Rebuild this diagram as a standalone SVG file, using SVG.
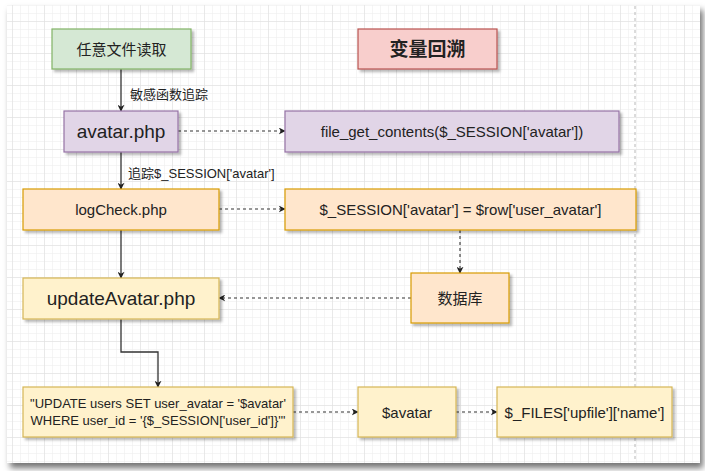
<svg xmlns="http://www.w3.org/2000/svg" width="705" height="471" viewBox="0 0 705 471">
<defs>
<pattern id="minor" width="8" height="8" patternUnits="userSpaceOnUse" x="4" y="5">
<path d="M8 0 L0 0 0 8" fill="none" stroke="#ececec" stroke-width="1"/>
</pattern>
<pattern id="major" width="32" height="32" patternUnits="userSpaceOnUse" x="12" y="21">
<path d="M32 0 L0 0 0 32" fill="none" stroke="#dedede" stroke-width="1"/>
</pattern>
<filter id="sh" x="-10%" y="-10%" width="130%" height="140%">
<feDropShadow dx="2.5" dy="2.5" stdDeviation="1.2" flood-color="#000" flood-opacity="0.28"/>
</filter>
<filter id="psh" x="-5%" y="-5%" width="110%" height="115%">
<feDropShadow dx="3" dy="5" stdDeviation="3" flood-color="#000" flood-opacity="0.55"/>
</filter>
<marker id="arr" viewBox="0 0 10 10" refX="9" refY="5" markerWidth="7" markerHeight="7" markerUnits="userSpaceOnUse" orient="auto">
<path d="M0 0 L10 5 L0 10 L3 5 z" fill="#222"/>
</marker>
<style>
text{font-family:"Liberation Sans",Arial,"Noto Sans CJK SC",sans-serif;fill:#222;text-anchor:middle;dominant-baseline:central}
.box{stroke-width:1.2;filter:url(#sh)}
.green{fill:#d5e8d4;stroke:#82b366}
.red{fill:#f8cecc;stroke:#b85450}
.purple{fill:#e1d5e7;stroke:#9673a6}
.orange{fill:#ffe6cc;stroke:#d79b00}
.yellow{fill:#fff2cc;stroke:#d6b656}
.solid{fill:none;stroke:#333;stroke-width:1.3;marker-end:url(#arr)}
.dash{fill:none;stroke:#333;stroke-width:1.1;stroke-dasharray:3 3;marker-end:url(#arr)}
.lbl{font-size:13px;text-anchor:start}
</style>
</defs>
<rect width="705" height="471" fill="#ffffff"/>
<g id="panel">
<rect x="7" y="5" width="693" height="458" fill="#ffffff" filter="url(#psh)"/>
<rect x="7" y="5" width="693" height="458" fill="url(#minor)"/>
<rect x="7" y="5" width="693" height="458" fill="url(#major)"/>
<line x1="635" y1="6" x2="635" y2="462" stroke="#b8b8b8" stroke-width="1" stroke-dasharray="3 3"/>
</g>
<g id="connectors">
<path class="solid" d="M121 69 L121 111"/>
<path class="solid" d="M121 152 L121 189"/>
<path class="solid" d="M121 230 L121 278"/>
<path class="solid" d="M121 319 L121 352 L158 352 L158 387"/>
<path class="dash" d="M178 131 L285 131"/>
<path class="dash" d="M219 209 L285 209"/>
<path class="dash" d="M460 230 L460 273"/>
<path class="dash" d="M411 298 L219 298"/>
<path class="dash" d="M293 412 L358 412"/>
<path class="dash" d="M456 412 L497 412"/>
<text class="lbl" x="130" y="94">敏感函数追踪</text>
<text class="lbl" x="128" y="173">追踪$_SESSION['avatar']</text>
</g>
<g id="n-read"><rect class="box green" x="52" y="29" width="139" height="40"/><text x="121.5" y="49" font-size="15">任意文件读取</text></g>
<g id="n-title"><rect class="box red" x="358" y="29" width="139" height="40"/><text x="427.5" y="49" font-size="19" font-weight="bold">变量回溯</text></g>
<g id="n-avatar"><rect class="box purple" x="64" y="111" width="114" height="41"/><text x="121" y="131.5" font-size="19">avatar.php</text></g>
<g id="n-fgc"><rect class="box purple" x="285" y="111" width="334" height="41"/><text x="452" y="131.5" font-size="15">file_get_contents($_SESSION['avatar'])</text></g>
<g id="n-logcheck"><rect class="box orange" x="23" y="189" width="196" height="41"/><text x="121" y="209.5" font-size="15">logCheck.php</text></g>
<g id="n-session"><rect class="box orange" x="285" y="189" width="351" height="41"/><text x="460.5" y="209.5" font-size="15">$_SESSION['avatar'] = $row['user_avatar']</text></g>
<g id="n-update"><rect class="box yellow" x="23" y="278" width="196" height="41"/><text x="121" y="298.5" font-size="19">updateAvatar.php</text></g>
<g id="n-db"><rect class="box orange" x="411" y="273" width="98" height="50"/><text x="460" y="298" font-size="15">数据库</text></g>
<g id="n-sql"><rect class="box yellow" x="23" y="387" width="270" height="50"/><text x="158" y="403.5" font-size="13">"UPDATE users SET user_avatar = '$avatar'</text><text x="158" y="420.5" font-size="13">WHERE user_id = '{$_SESSION['user_id']}'"</text></g>
<g id="n-var"><rect class="box yellow" x="358" y="387" width="98" height="50"/><text x="407" y="412" font-size="15">$avatar</text></g>
<g id="n-files"><rect class="box yellow" x="497" y="387" width="175" height="50"/><text x="584.5" y="412" font-size="15">$_FILES['upfile']['name']</text></g>
</svg>
